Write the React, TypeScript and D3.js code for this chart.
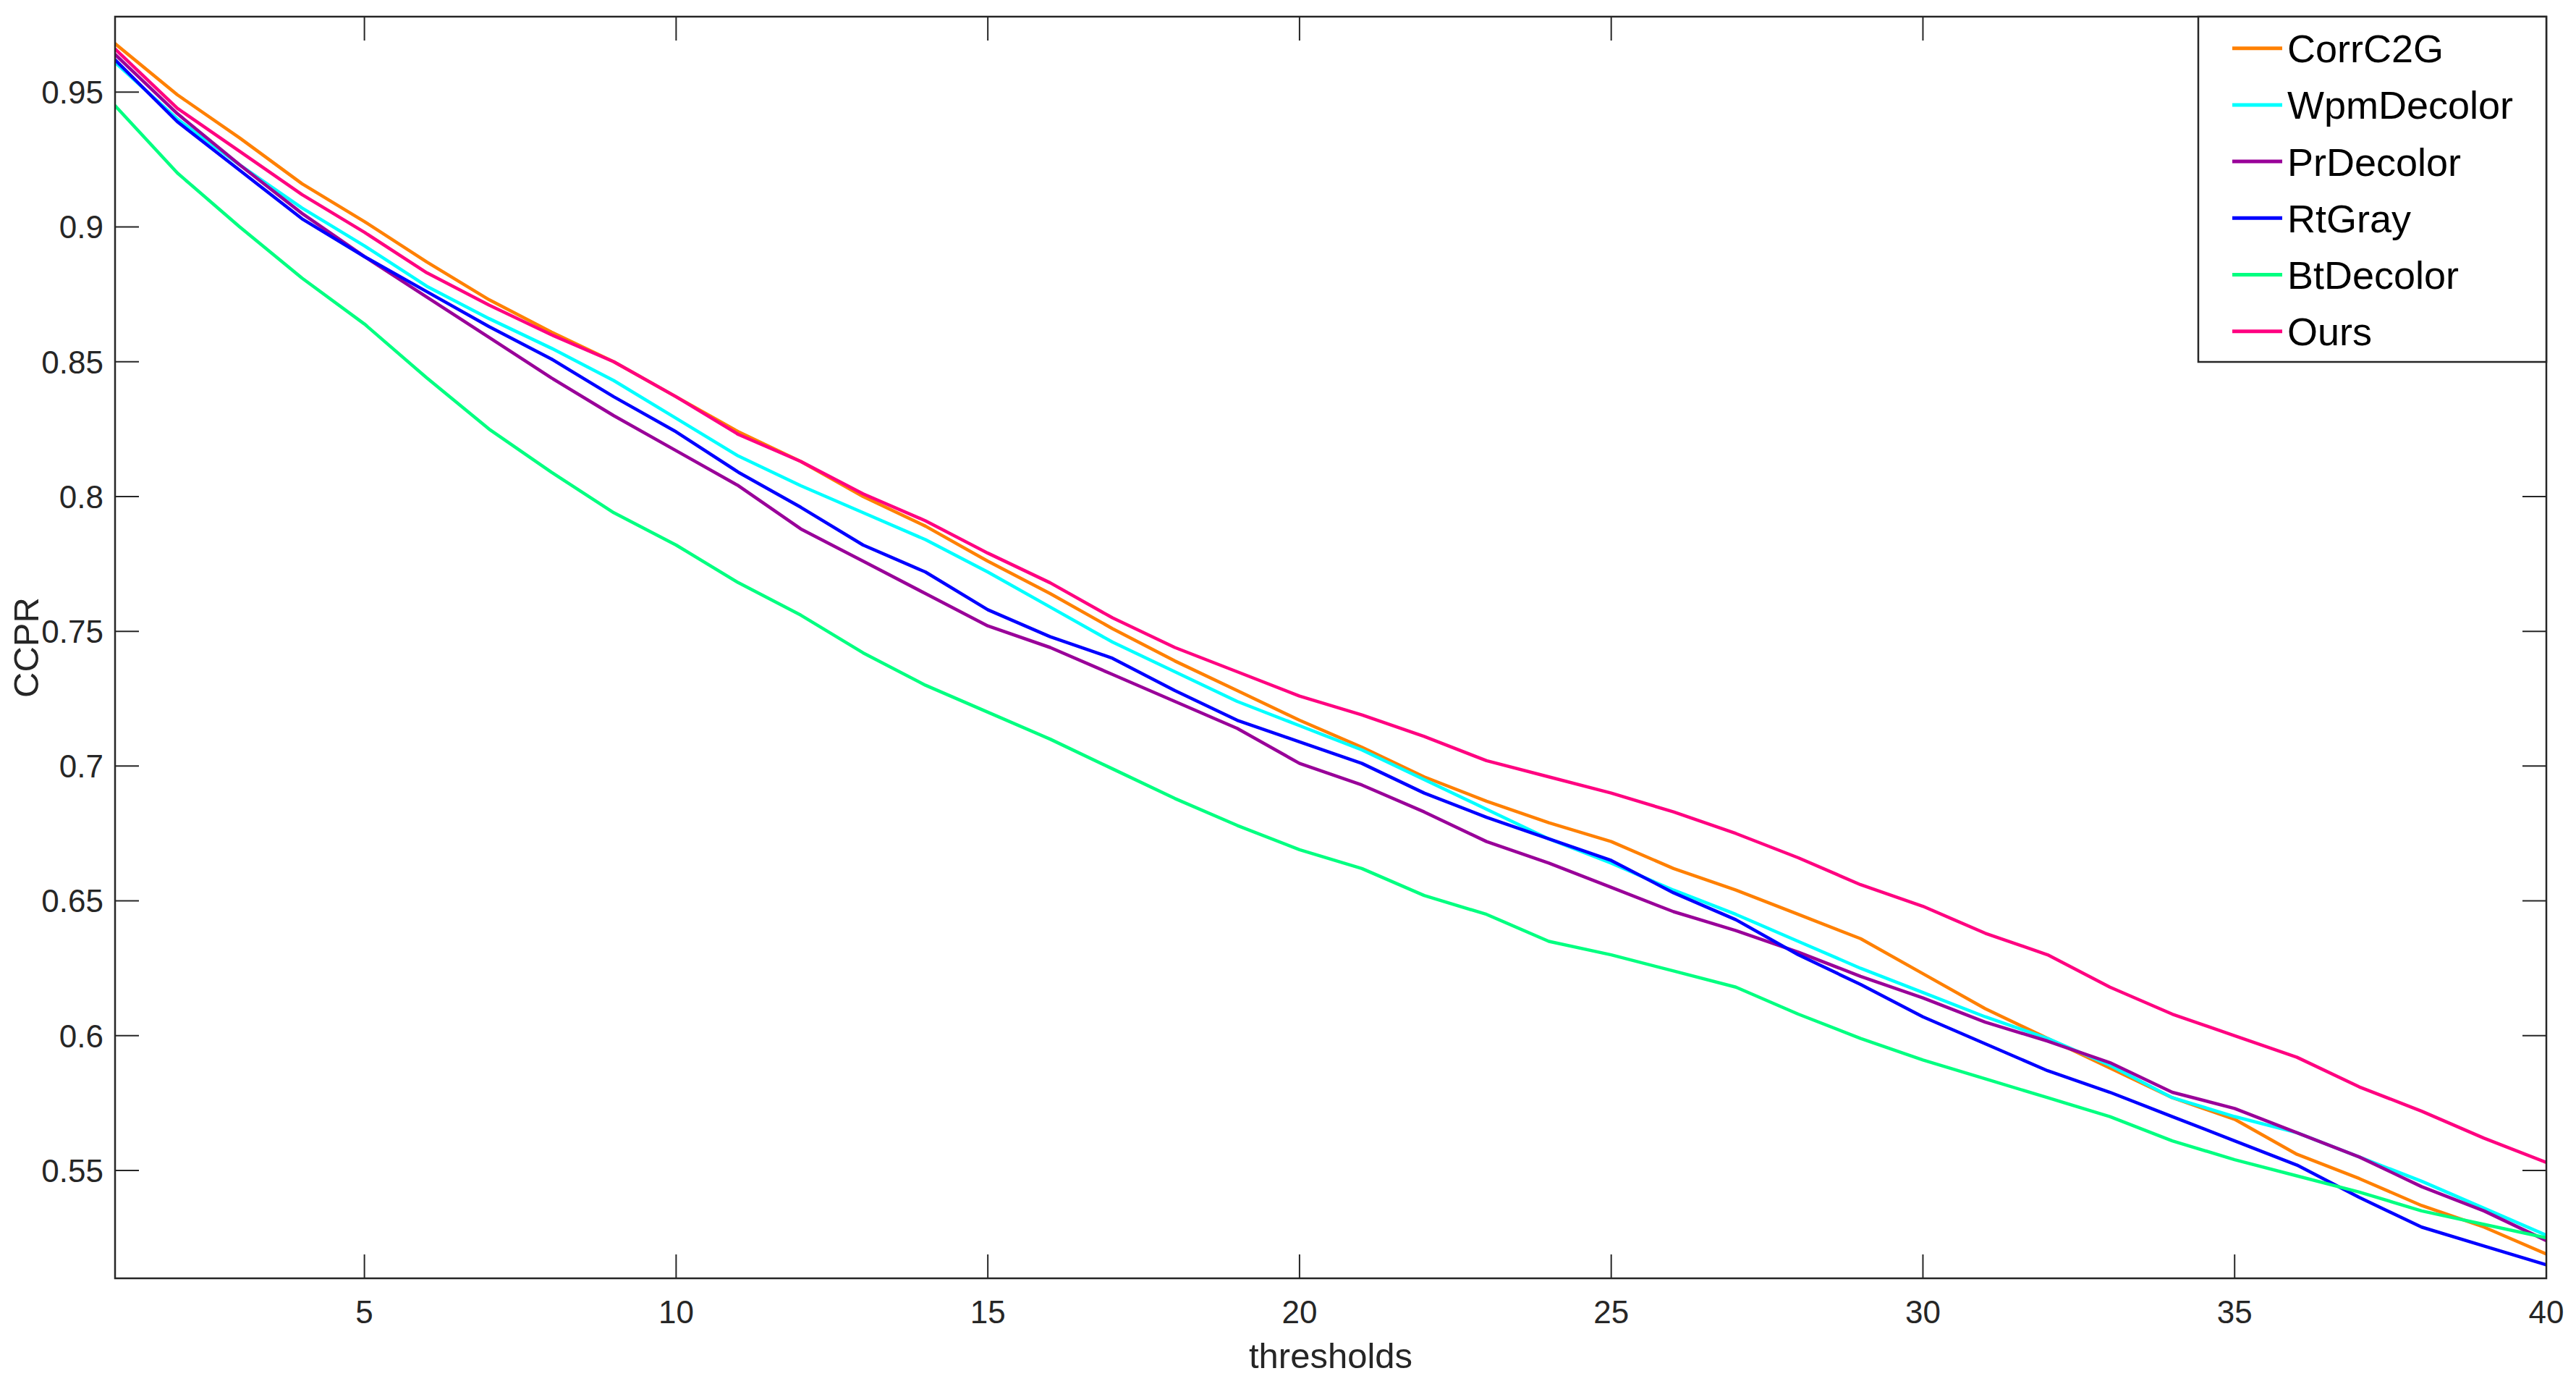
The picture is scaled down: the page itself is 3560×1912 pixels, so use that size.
import React from "react";
import * as d3 from "d3";

const thresholds: number[] = d3.range(1, 41);

const seriesNames = ["CorrC2G", "WpmDecolor", "PrDecolor", "RtGray", "BtDecolor", "Ours"];
const seriesColors = ["#FF8000", "#00FFFF", "#990099", "#0000FF", "#00FF80", "#FF0080"];

const corrC2G = [0.968, 0.949, 0.933, 0.916, 0.902, 0.887, 0.873, 0.861, 0.850, 0.837,
  0.824, 0.813, 0.800, 0.789, 0.776, 0.764, 0.751, 0.739, 0.728, 0.717,
  0.707, 0.696, 0.687, 0.679, 0.672, 0.662, 0.654, 0.645, 0.636, 0.623,
  0.610, 0.599, 0.588, 0.577, 0.569, 0.556, 0.547, 0.537, 0.529, 0.519];
const wpmDecolor = [0.961, 0.940, 0.923, 0.907, 0.893, 0.878, 0.866, 0.855, 0.843, 0.829,
  0.815, 0.804, 0.794, 0.784, 0.772, 0.759, 0.746, 0.735, 0.724, 0.715,
  0.706, 0.695, 0.684, 0.673, 0.664, 0.654, 0.645, 0.635, 0.625, 0.616,
  0.607, 0.599, 0.589, 0.577, 0.570, 0.564, 0.555, 0.546, 0.536, 0.526];
const prDecolor = [0.964, 0.942, 0.923, 0.905, 0.889, 0.874, 0.859, 0.844, 0.830, 0.817,
  0.804, 0.788, 0.776, 0.764, 0.752, 0.744, 0.734, 0.724, 0.714, 0.701,
  0.693, 0.683, 0.672, 0.664, 0.655, 0.646, 0.639, 0.631, 0.622, 0.614,
  0.605, 0.598, 0.590, 0.579, 0.573, 0.564, 0.555, 0.544, 0.535, 0.524];
const rtGray = [0.962, 0.939, 0.921, 0.903, 0.889, 0.876, 0.863, 0.851, 0.837, 0.824,
  0.809, 0.796, 0.782, 0.772, 0.758, 0.748, 0.740, 0.728, 0.717, 0.709,
  0.701, 0.690, 0.681, 0.673, 0.665, 0.653, 0.643, 0.630, 0.619, 0.607,
  0.597, 0.587, 0.579, 0.570, 0.561, 0.552, 0.540, 0.529, 0.522, 0.515];
const btDecolor = [0.945, 0.920, 0.900, 0.881, 0.864, 0.844, 0.825, 0.809, 0.794, 0.782,
  0.768, 0.756, 0.742, 0.730, 0.720, 0.710, 0.699, 0.688, 0.678, 0.669,
  0.662, 0.652, 0.645, 0.635, 0.630, 0.624, 0.618, 0.608, 0.599, 0.591,
  0.584, 0.577, 0.570, 0.561, 0.554, 0.548, 0.542, 0.535, 0.530, 0.525];
const ours = [0.966, 0.944, 0.928, 0.912, 0.898, 0.883, 0.871, 0.860, 0.850, 0.837,
  0.823, 0.813, 0.801, 0.791, 0.779, 0.768, 0.755, 0.744, 0.735, 0.726,
  0.719, 0.711, 0.702, 0.696, 0.690, 0.683, 0.675, 0.666, 0.656, 0.648,
  0.638, 0.630, 0.618, 0.608, 0.600, 0.592, 0.581, 0.572, 0.562, 0.553];

const seriesValues = [corrC2G, wpmDecolor, prDecolor, rtGray, btDecolor, ours];

const xTicks = [5, 10, 15, 20, 25, 30, 35, 40];
const yTicks = [0.55, 0.6, 0.65, 0.7, 0.75, 0.8, 0.85, 0.9, 0.95];
const yTickLabels = ["0.55", "0.6", "0.65", "0.7", "0.75", "0.8", "0.85", "0.9", "0.95"];
const xDomain = [1, 40];
const yDomain = [0.51, 0.978];

const W = 3560;
const H = 1912;
const L = 159, R = 3519, T = 23, B = 1766;
const AX = "#262626";
const FONT = "'Liberation Sans', Arial, Helvetica, sans-serif";

export default function App() {
  const x = d3.scaleLinear().domain(xDomain).range([L, R]);
  const y = d3.scaleLinear().domain(yDomain).range([B, T]);
  const line = d3.line<number>().x((_, i) => x(thresholds[i])).y((d) => y(d));
  const tickLen = 33;

  const legX = 3038, legY = 23, legW = 481, legH = 477;
  const rowY0 = 66.7, rowStep = 78.2;

  return (
    <svg width={W} height={H} style={{ position: "absolute", left: 0, top: 0, background: "#fff" }}
      fontFamily={FONT}>
      <rect x={0} y={0} width={W} height={H} fill="#fff" />
      <defs>
        <clipPath id="plotclip">
          <rect x={L} y={T} width={R - L} height={B - T} />
        </clipPath>
      </defs>
      {/* ticks */}
      {xTicks.map((t) => (
        <g key={"xt" + t}>
          <line x1={x(t)} x2={x(t)} y1={B} y2={B - tickLen} stroke={AX} strokeWidth={2} />
          <line x1={x(t)} x2={x(t)} y1={T} y2={T + tickLen} stroke={AX} strokeWidth={2} />
          <text x={x(t)} y={1828} textAnchor="middle" fontSize={44} fill={AX}>{t}</text>
        </g>
      ))}
      {yTicks.map((t, i) => (
        <g key={"yt" + t}>
          <line x1={L} x2={L + tickLen} y1={y(t)} y2={y(t)} stroke={AX} strokeWidth={2} />
          <line x1={R} x2={R - tickLen} y1={y(t)} y2={y(t)} stroke={AX} strokeWidth={2} />
          <text x={143} y={y(t)} dy="0.36em" textAnchor="end" fontSize={44} fill={AX}>{yTickLabels[i]}</text>
        </g>
      ))}
      {/* series */}
      <g clipPath="url(#plotclip)">
        {seriesValues.map((vals, i) => (
          <path key={seriesNames[i]} d={line(vals) || ""} fill="none" stroke={seriesColors[i]}
            strokeWidth={4.5} strokeLinejoin="round" strokeLinecap="round" />
        ))}
      </g>
      {/* axes box */}
      <rect x={L} y={T} width={R - L} height={B - T} fill="none" stroke={AX} strokeWidth={2.5} />
      {/* axis labels */}
      <text x={(L + R) / 2} y={1890} textAnchor="middle" fontSize={49} fill={AX}>thresholds</text>
      <text transform={`translate(53, ${(T + B) / 2}) rotate(-90)`} textAnchor="middle" fontSize={49} fill={AX}>CCPR</text>
      {/* legend */}
      <rect x={legX} y={legY} width={legW} height={legH} fill="#fff" stroke={AX} strokeWidth={2.5} />
      {seriesNames.map((n, i) => (
        <g key={"lg" + n}>
          <line x1={3085} x2={3154} y1={rowY0 + i * rowStep} y2={rowY0 + i * rowStep}
            stroke={seriesColors[i]} strokeWidth={5} />
          <text x={3161} y={rowY0 + i * rowStep} dy="0.36em" fontSize={54} fill="#000">{n}</text>
        </g>
      ))}
    </svg>
  );
}
